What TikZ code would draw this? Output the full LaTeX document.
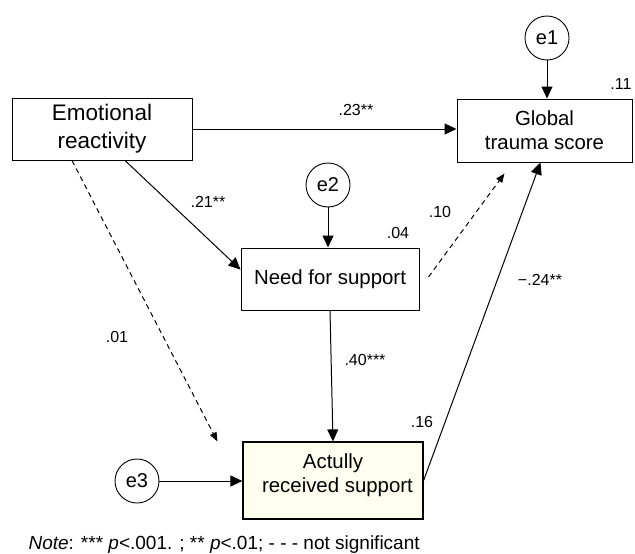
\documentclass[tikz,border=0pt]{standalone}
\usepackage{fontspec}
\setmainfont{Liberation Sans}
\usetikzlibrary{arrows.meta}
\definecolor{ivory}{HTML}{FFFFF0}
\tikzset{
  box/.style={draw, line width=1pt, align=center, inner sep=0pt,
    font=\fontsize{20.4}{24}\selectfont},
  err/.style={draw, circle, line width=0.9pt, minimum size=44pt, inner sep=0pt,
    font=\fontsize{20}{24}\selectfont},
  coef/.style={font=\fontsize{16}{18}\selectfont},
  path/.style={line width=1pt, -{Triangle[length=12pt,width=11pt]}},
  ns/.style={line width=1pt, dashed, dash pattern=on 5pt off 4pt,
    -{Triangle[length=9pt,width=7pt]}}
}
\begin{document}
\begin{tikzpicture}[x=1pt,y=-1pt]
      \useasboundingbox (0,0) rectangle (635,554);
      \draw
        (102,129) node[box, minimum width=180pt, minimum height=62pt,
          font=\fontsize{22.5}{28}\selectfont] (er){Emotional\\reactivity}
        (544.5,130.5) node[box, minimum width=175pt, minimum height=63pt] (gl){Global\\trauma score}
        (330,279) node[box, minimum width=178pt, minimum height=62pt] (need){Need for support}
        (333,480.5) node[box, fill=ivory, line width=1.2pt, minimum width=180pt,
          minimum height=77pt] (act){}
        (333,475) node[align=center, font=\fontsize{20.4}{24}\selectfont] (acttext){Actully\\\hspace*{9pt}received support}
        (547,38) node[err] (e1){e1}
        (328,185) node[err] (e2){e2}
        (137,481) node[err] (e3){e3};
      \draw
        (621,84) node[coef] (r1){.11}
        (398,233) node[coef] (r2){.04}
        (422,422) node[coef] (r3){.16}
        (356,110) node[coef] (c1){.23**}
        (208,202) node[coef] (c2){.21**}
        (440,212) node[coef] (c3){.10}
        (117,337) node[coef] (c4){.01}
        (365,360) node[coef] (c5){.40***}
        (540,280) node[coef] (c6){−.24**};
      \begin{scope}[path]
        \draw (e1) to (e1 |- gl.north);
        \draw (e2) to (e2 |- need.north);
        \draw (e3) to (e3 -| act.west);
        \draw (er.east) to (er.east -| gl.west);
        \draw ([xshift=23pt]er.south) to (need.174);
        \draw (need.south) to (act.north);
        \draw (act.east) to ([xshift=-4pt]gl.south);
      \end{scope}
      \begin{scope}[ns]
        \draw ([xshift=-30pt]er.south) to ([xshift=-25pt]act.north west);
        \draw ([xshift=9pt,yshift=2pt]need.east) to ([xshift=-40pt,yshift=-11pt]gl.south);
      \end{scope}
      \node[anchor=west, font=\fontsize{19}{22}\selectfont] (note) at (25,545)
        {\textit{Note}: *** \textit{p}<.001. ; ** \textit{p}<.01; - - - not significant};
    \end{tikzpicture}
\end{document}
